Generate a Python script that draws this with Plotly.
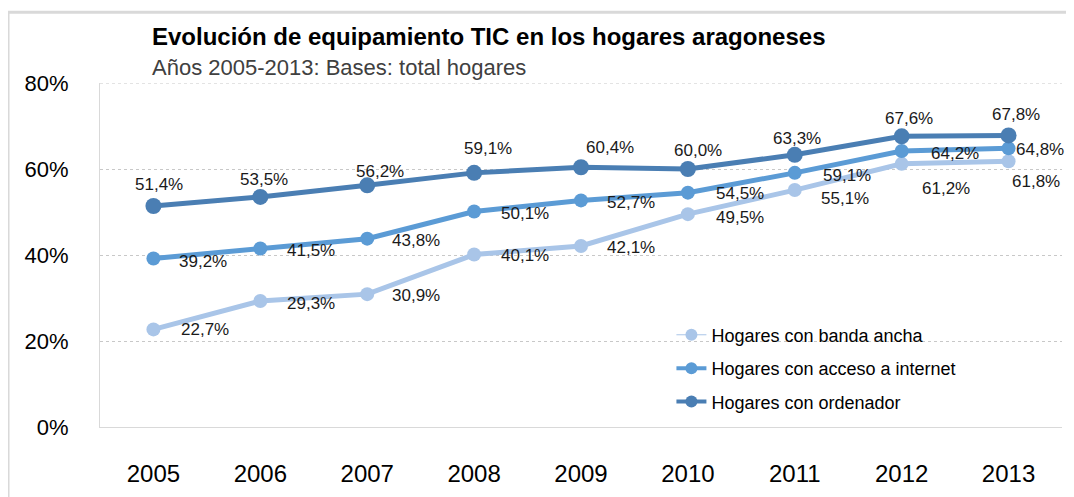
import plotly.graph_objects as go

years = ["2005", "2006", "2007", "2008", "2009", "2010", "2011", "2012", "2013"]
banda_ancha = [22.7, 29.3, 30.9, 40.1, 42.1, 49.5, 55.1, 61.2, 61.8]
acceso_internet = [39.2, 41.5, 43.8, 50.1, 52.7, 54.5, 59.1, 64.2, 64.8]
ordenador = [51.4, 53.5, 56.2, 59.1, 60.4, 60.0, 63.3, 67.6, 67.8]
y_ticks = [0, 20, 40, 60, 80]

names = ["Hogares con banda ancha", "Hogares con acceso a internet", "Hogares con ordenador"]
colors = ["#A9C5E8", "#5B9BD5", "#4A7EB3"]
marker_sizes = [14, 14, 16]
legend_widths = [1, 4, 4]

# label offsets (pixels): dx right, dy down
label_dx = [
    [52, 51, 49, 51, 50, 52, 50, 44, 27],
    [50, 51, 49, 51, 50, 52, 52, 53, 31],
    [6, 4, 13, 14, 29, 10, 2, 7, 7],
]
label_dy = [
    [0, 2, 1, 1, 2, 3, 8, 25, 20],
    [3, 2, 2, 2, 2, 1, 3, 3, 1],
    [-21, -17, -14, -24, -20, -19, -16, -18, -21],
]

series = [banda_ancha, acceso_internet, ordenador]
font = "Liberation Sans"

fig = go.Figure()
for i, vals in enumerate(series):
    fig.add_trace(go.Scatter(
        x=years, y=vals, mode="lines+markers", name=names[i],
        line=dict(color=colors[i], width=5),
        marker=dict(color=colors[i], size=marker_sizes[i]),
        showlegend=False, hoverinfo="skip",
    ))
for i in range(3):
    fig.add_trace(go.Scatter(
        x=[None], y=[None], mode="lines+markers", name=names[i],
        line=dict(color=colors[i], width=legend_widths[i]),
        marker=dict(color=colors[i], size=12),
        legendgroup=f"g{i}", showlegend=True,
    ))

annotations = []
for i, vals in enumerate(series):
    for j, v in enumerate(vals):
        annotations.append(dict(
            x=j, y=v, xref="x", yref="y",
            text=f"{v:.1f}".replace(".", ",") + "%",
            showarrow=False, xanchor="center", yanchor="middle",
            xshift=label_dx[i][j], yshift=-label_dy[i][j],
            font=dict(family=font, size=17, color="#1a1a1a"),
        ))

annotations.append(dict(
    x=0.052, y=1.134, xref="paper", yref="paper", xanchor="left", yanchor="middle",
    text="<b>Evolución de equipamiento TIC en los hogares aragoneses</b>",
    showarrow=False, font=dict(family=font, size=24, color="#000000"),
))
annotations.append(dict(
    x=0.052, y=1.044, xref="paper", yref="paper", xanchor="left", yanchor="middle",
    text="Años 2005-2013: Bases: total hogares",
    showarrow=False, font=dict(family=font, size=22, color="#404040"),
))

fig.update_layout(
    width=1074, height=497,
    margin=dict(l=92, r=20, t=75, b=78, autoexpand=False),
    paper_bgcolor="white", plot_bgcolor="white",
    annotations=annotations,
    legend=dict(
        x=0.594, y=0.321, xanchor="left", yanchor="top",
        font=dict(family=font, size=18, color="#000000"),
        bgcolor="rgba(0,0,0,0)", tracegroupgap=7,
        traceorder="grouped",
    ),
    shapes=[
        dict(
            type="rect", xref="paper", yref="paper",
            x0=-0.0956, x1=1.05, y0=-0.4, y1=1.206,
            line=dict(color="#d9d9d9", width=3), layer="below",
        ),
        dict(
            type="line", xref="paper", yref="y", x0=0, x1=1, y0=y_ticks[-1], y1=y_ticks[-1],
            line=dict(color="#c8c8c8", width=1, dash="dot"), layer="below",
        ),
    ],
    xaxis=dict(
        type="category", range=[-0.5, 8.5], automargin=False,
        showline=True, linecolor="#d9d9d9", linewidth=1,
        showgrid=False, ticks="",
        tickfont=dict(family=font, size=24, color="#000000"),
        ticklabelstandoff=25,
    ),
    yaxis=dict(
        range=[0, 80], tickvals=y_ticks, ticktext=[f"{t}%" for t in y_ticks],
        automargin=False,
        showline=True, linecolor="#d9d9d9", linewidth=1,
        showgrid=True, gridcolor="#c8c8c8", griddash="dot", gridwidth=1,
        zeroline=False, ticks="",
        tickfont=dict(family=font, size=22, color="#000000"),
        ticklabelstandoff=26,
    ),
)

fig.write_html("out.html")
